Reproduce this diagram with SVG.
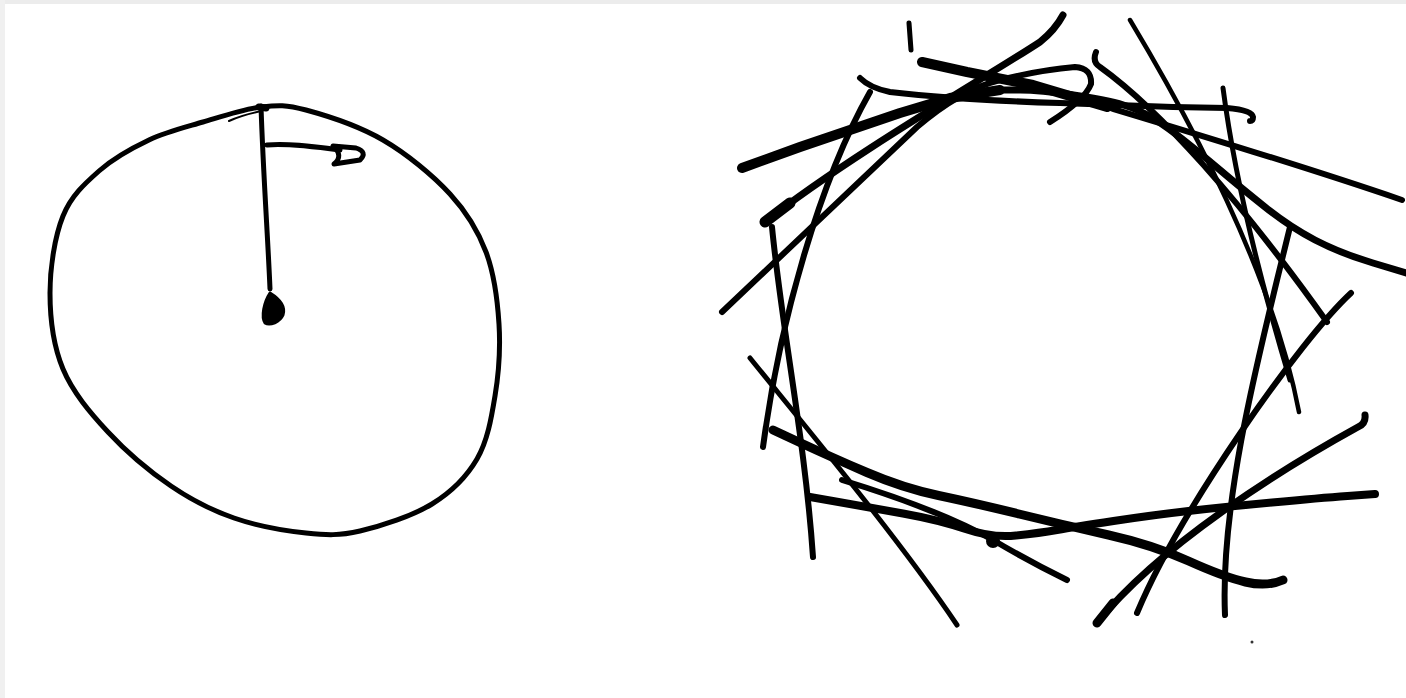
<svg xmlns="http://www.w3.org/2000/svg" width="1406" height="698" viewBox="0 0 1406 698">
<style>
.s{fill:none;stroke:#000;stroke-linecap:round;stroke-linejoin:round}
</style>
<rect x="0" y="0" width="1406" height="698" fill="#fff"/>
<rect x="0" y="0" width="1406" height="4" fill="#ececec"/>
<rect x="0" y="0" width="5" height="698" fill="#f0f0f0"/>
<g id="circle-sketch">
<path class="s" stroke-width="5" d="M261,107 C278.2,105 285.7,104.5 306,110 C326.3,115.5 359,126 383,140 C407,154 432.8,175.3 450,194 C467.2,212.7 477.8,230.3 486,252 C494.2,273.7 497.5,300 499,324 C500.5,348 498.7,373.5 495,396 C491.3,418.5 487.5,441 477,459 C466.5,477 451.5,492 432,504 C412.5,516 381,526.2 360,531 C339,535.8 327,535.2 306,533 C285,530.8 256.5,525.8 234,518 C211.5,510.2 192,500.3 171,486 C150,471.7 126,451.5 108,432 C90,412.5 72.7,392.2 63,369 C53.3,345.8 50,318.5 50,293 C50,267.5 54.8,236.3 63,216 C71.2,195.7 84.7,183.7 99,171 C113.3,158.3 131.7,148.2 149,140 C166.3,131.8 184.3,127.5 203,122 C221.7,116.5 243.8,109 261,107"/>
<path class="s" stroke-width="2" stroke="#555" d="M229,121 C240,116 252,113 262,111"/>
<path class="s" stroke-width="5" d="M261,106 C263,170 268,240 270,289"/>
<path class="s" stroke-width="7" d="M259,107 L266,108"/>
<path fill="#000" stroke="#000" stroke-width="3" stroke-linejoin="round" d="M270,293 C278,298 286,306 283,315 C280,322 270,326 265,323 C261,317 264,302 270,293 Z"/>
<path class="s" stroke-width="5" d="M267,145 C285,143 310,146 340,150"/>
<path class="s" stroke-width="5" fill="#000" d="M333,146 L356,148 Q368,152 360,160 L334,164 Q344,156 333,146 Z"/>
</g>
<g id="tangent-sketch">
<path class="s" stroke-width="5" d="M909,23 L911,50"/>
<path class="s" stroke-width="10" d="M742,168 L800,147 L850,130 L900,113 L950,98 L1000,90"/>
<path class="s" stroke-width="7" d="M1000,90 L1020,90 Q1040,90 1073.5,95 Q1107,100 1123.5,105 Q1140,110 1153.5,118.5 Q1167,127 1183.5,140 Q1200,153 1220,170 Q1240,187 1265,207 Q1290,227 1315,240 Q1340,253 1373,263 L1406,273"/>
<path class="s" stroke-width="7" d="M765,222 C850,155 990,75 1040,42 Q1055,30 1063,15"/>
<path class="s" stroke-width="11" d="M765,222 L790,203"/>
<path class="s" stroke-width="6" d="M722,312 L917,127 Q960,90 1000,80 Q1040,70 1075,67 Q1092,68 1091,84 Q1085,100 1050,122"/>
<path class="s" stroke-width="6" d="M860,78 Q870,88 890,92 Q960,100 1060,103 L1173,107 L1227,108 Q1252,110 1253,117 Q1253,121 1250,121"/>
<path class="s" stroke-width="10" d="M922,62 L967,72 L1033,85 L1107,107"/>
<path class="s" stroke-width="6" d="M1107,107 C1200,135 1300,165 1402,200"/>
<path class="s" stroke-width="6" d="M1096,52 Q1092,62 1100,67 C1160,110 1240,200 1327,322"/>
<path class="s" stroke-width="4.5" d="M1130,20 C1175,95 1270,260 1299,412"/>
<path class="s" stroke-width="5" d="M1223,88 C1235,180 1260,280 1290,380"/>
<path class="s" stroke-width="6" d="M1351,293 C1300,340 1180,510 1137,613"/>
<path class="s" stroke-width="6" d="M1290,227 C1260,350 1220,500 1225,615"/>
<path class="s" stroke-width="7" d="M1365,415 Q1366,424 1358,427 C1280,470 1160,545 1097,623"/>
<path class="s" stroke-width="9" d="M1113,603 L1097,623"/>
<path class="s" stroke-width="6" d="M870,92 C820,180 780,320 763,447"/>
<path class="s" stroke-width="6" d="M772,227 C782,330 805,440 813,557"/>
<path class="s" stroke-width="5" d="M750,358 C800,420 900,540 957,625"/>
<path class="s" stroke-width="9" d="M773,430 L802,443.5 Q831,457 867,472.5 Q903,488 938.5,495.5 Q974,503 1019,514 Q1064,525 1108.5,535 Q1153,545 1188.5,561 Q1224,577 1245.5,582 Q1267,587 1283,580"/>
<path class="s" stroke-width="8" d="M810,497 L838.5,502 Q867,507 903,513.5 Q939,520 965.5,529 Q992,538 1016,535.5 Q1040,533 1057,530 Q1074,527 1113.5,521 Q1153,515 1188.5,511 Q1224,507 1272,502.5 Q1320,498 1347.5,496 L1375,494"/>
<path class="s" stroke-width="6" d="M842,480 Q940,510 993,540 Q1030,562 1067,580"/>
<circle cx="993" cy="541" r="7" fill="#000"/>
<circle cx="1252" cy="642" r="1.5" fill="#333"/>
</g>
</svg>
